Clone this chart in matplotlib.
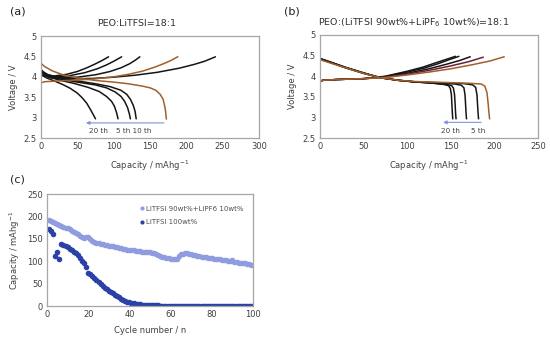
import matplotlib
matplotlib.use("Agg")
import matplotlib.pyplot as plt

# ---------------- Panel (a): PEO:LiTFSI = 18:1 ----------------
a_dis_brown_cap = [0, 5, 15, 30, 50, 75, 100, 120, 140, 150, 158, 164, 168, 170, 171.5, 172.5]
a_dis_brown_v = [4.33, 4.25, 4.15, 4.05, 3.97, 3.91, 3.87, 3.83, 3.77, 3.73, 3.67, 3.57, 3.45, 3.3, 3.15, 2.97]
a_dis_130_cap = [0, 10, 25, 50, 75, 95, 110, 118, 123, 127, 129.5, 131]
a_dis_130_v = [4.15, 4.05, 3.97, 3.9, 3.83, 3.76, 3.67, 3.57, 3.45, 3.3, 3.15, 2.97]
a_dis_122_cap = [0, 10, 25, 50, 75, 90, 102, 110, 115, 119, 121.5, 123]
a_dis_122_v = [4.12, 4.03, 3.95, 3.87, 3.8, 3.73, 3.63, 3.52, 3.4, 3.25, 3.1, 2.97]
a_dis_106_cap = [0, 10, 25, 45, 65, 80, 90, 97, 101, 104, 106]
a_dis_106_v = [4.1, 4.0, 3.92, 3.84, 3.74, 3.64, 3.52, 3.4, 3.28, 3.12, 2.97]
a_dis_75_cap = [0, 8, 18, 30, 40, 50, 57, 63, 68, 72, 75]
a_dis_75_v = [4.05, 3.97, 3.9, 3.81, 3.72, 3.6, 3.48, 3.35, 3.2, 3.07, 2.97]

a_chg_brown_cap = [0, 5, 25, 50, 75, 100, 120, 140, 157, 170, 180, 188]
a_chg_brown_v = [3.85, 3.88, 3.9, 3.92, 3.95, 4.0, 4.06, 4.14, 4.24, 4.33, 4.41, 4.49]
a_chg_240_cap = [0, 15, 40, 70, 100, 130, 160, 190, 210, 225, 240]
a_chg_240_v = [4.05, 3.97, 3.95, 3.96, 3.99, 4.04, 4.11, 4.21, 4.3, 4.38, 4.49]
a_chg_136_cap = [0, 10, 25, 50, 75, 95, 110, 122, 130, 136]
a_chg_136_v = [4.12, 4.02, 3.98, 3.99, 4.05, 4.13, 4.22, 4.32, 4.41, 4.49]
a_chg_111_cap = [0, 8, 20, 40, 60, 78, 90, 100, 106, 111]
a_chg_111_v = [4.15, 4.03, 4.0, 4.03, 4.1, 4.2, 4.29, 4.38, 4.44, 4.49]
a_chg_93_cap = [0, 7, 18, 35, 50, 63, 74, 83, 88, 93]
a_chg_93_v = [4.18, 4.05, 4.02, 4.06, 4.13, 4.22, 4.31, 4.39, 4.44, 4.49]
a_start_cap = [0, 0]
a_start_v = [2.5, 4.33]

# ---------------- Panel (b): PEO:(LiTFSI 90 + LiPF6 10) = 18:1 ----------------
b_dis_brown_cap = [0, 15, 30, 50, 70, 90, 110, 140, 170, 185, 189, 191.5, 193, 193.8, 194.5]
b_dis_brown_v = [4.4, 4.3, 4.2, 4.07, 3.96, 3.9, 3.87, 3.85, 3.83, 3.81, 3.76, 3.6, 3.3, 3.1, 2.97]
b_dis_181_cap = [0, 15, 30, 50, 70, 90, 110, 140, 165, 175, 178.5, 180, 180.7, 181.3, 181.8]
b_dis_181_v = [4.42, 4.31, 4.2, 4.07, 3.96, 3.9, 3.86, 3.84, 3.82, 3.79, 3.73, 3.55, 3.3, 3.1, 2.97]
b_dis_167_cap = [0, 15, 30, 50, 70, 90, 110, 140, 155, 162, 165, 166.3, 167, 167.5, 168]
b_dis_167_v = [4.42, 4.31, 4.2, 4.07, 3.96, 3.9, 3.86, 3.83, 3.81, 3.78, 3.72, 3.55, 3.3, 3.1, 2.97]
b_dis_155_cap = [0, 15, 30, 50, 70, 90, 110, 130, 145, 151, 153, 154.3, 155, 155.5, 156]
b_dis_155_v = [4.43, 4.32, 4.21, 4.08, 3.96, 3.9, 3.86, 3.83, 3.8, 3.77, 3.71, 3.55, 3.3, 3.1, 2.97]
b_dis_151_cap = [0, 15, 30, 50, 70, 90, 110, 130, 142, 147.5, 149.5, 150.7, 151.3, 151.8, 152.2]
b_dis_151_v = [4.43, 4.32, 4.21, 4.08, 3.96, 3.9, 3.86, 3.83, 3.8, 3.77, 3.7, 3.55, 3.3, 3.1, 2.97]

b_chg_brown_cap = [0, 0, 3, 20, 50, 75, 100, 125, 150, 175, 195, 211]
b_chg_brown_v = [2.5, 3.85, 3.9, 3.92, 3.94, 3.97, 4.03, 4.1, 4.18, 4.28, 4.37, 4.47]
b_chg_187_cap = [0, 3, 20, 50, 75, 100, 125, 150, 170, 187]
b_chg_187_v = [3.87, 3.9, 3.92, 3.94, 3.97, 4.05, 4.14, 4.25, 4.35, 4.46]
b_chg_172_cap = [0, 3, 20, 50, 75, 100, 125, 145, 160, 172]
b_chg_172_v = [3.87, 3.9, 3.92, 3.94, 3.98, 4.07, 4.18, 4.29, 4.38, 4.47]
b_chg_159_cap = [0, 3, 20, 50, 75, 100, 120, 135, 148, 159]
b_chg_159_v = [3.87, 3.9, 3.92, 3.94, 3.99, 4.1, 4.2, 4.3, 4.4, 4.48]
b_chg_155_cap = [0, 3, 20, 50, 75, 100, 118, 132, 145, 155]
b_chg_155_v = [3.87, 3.9, 3.92, 3.94, 4.0, 4.12, 4.22, 4.32, 4.41, 4.48]

# ---------------- Panel (c): cycling ----------------
cycles = list(range(1, 101))
cap_mixed = [191, 189, 187, 185, 183, 181, 179, 177, 175, 173,
             171, 168, 166, 163, 160, 157, 154, 151, 155, 154,
             150, 146, 143, 141, 140, 139, 138, 137, 136, 135,
             134, 133, 132, 131, 130, 129, 128, 127, 126, 125,
             124.5, 124, 123, 122.5, 122, 121.5, 121, 120.5, 120, 120,
             119, 118, 116, 113, 111, 110, 109, 108, 107, 106,
             106, 105.5, 105, 112, 115, 117, 119, 118, 116, 115,
             114, 113, 112, 111, 110, 109.5, 109, 108, 107.5, 107,
             106, 105.5, 105, 104, 103.5, 103, 102, 101.5, 101, 102,
             99, 98, 97, 96.5, 96, 95, 94, 93, 92, 91]
cap_litfsi = [172, 167, 161, 112, 120, 104, 138, 137, 134, 131,
              128, 124, 121, 118, 113, 107, 101, 95, 86, 74,
              71, 68, 63, 58, 54, 49, 45, 41, 38, 34,
              31, 28, 25, 22, 19, 16.5, 14, 12, 10, 8.5,
              7.2, 6, 5, 4.2, 3.5, 3, 2.5, 2.2, 1.9, 1.7,
              1.5, 1.4, 1.3, 1.2, 1.1, 1.0, 0.9, 0.8, 0.8, 0.7,
              0.6, 0.6, 0.6, 0.5, 0.5, 0.5, 0.5, 0.5, 0.4, 0.4,
              0.4, 0.4, 0.4, 0.4, 0.3, 0.3, 0.3, 0.3, 0.3, 0.3,
              0.3, 0.3, 0.3, 0.3, 0.2, 0.2, 0.2, 0.2, 0.2, 0.2,
              0.2, 0.2, 0.2, 0.2, 0.2, 0.2, 0.2, 0.2, 0.2, 0.2]
label_mixed = "LiTFSI 90wt%+LiPF6 10wt%"
label_litfsi = "LiTFSI 100wt%"

# ---------------- styling ----------------
BLACK = "#151515"
BROWN = "#a0602c"
DARKRED = "#6e2035"
LIGHT = "#8f9de0"
DARK = "#2b41a8"
SPINE = "#a6a6a6"
TXT = "#404040"
plt.rcParams["font.family"] = "DejaVu Sans"

fig = plt.figure(figsize=(5.5, 3.43), dpi=100)
W, H = 550.0, 343.0


def add_ax(l, t, r, b):
    return fig.add_axes([l / W, 1 - b / H, (r - l) / W, (b - t) / H])


def style(ax):
    for s in ax.spines.values():
        s.set_color(SPINE)
        s.set_linewidth(0.9)
    ax.tick_params(length=0, labelsize=6, labelcolor=TXT, pad=3)


cap_label = "Capacity / mAhg$^{\\mathregular{-1}}$"

# Panel (a)
axa = add_ax(41, 36, 259, 138)
lw = 1.1
for c, v in [(a_dis_130_cap, a_dis_130_v), (a_dis_122_cap, a_dis_122_v),
             (a_dis_106_cap, a_dis_106_v), (a_dis_75_cap, a_dis_75_v),
             (a_chg_240_cap, a_chg_240_v), (a_chg_136_cap, a_chg_136_v),
             (a_chg_111_cap, a_chg_111_v), (a_chg_93_cap, a_chg_93_v)]:
    axa.plot(c, v, color=BLACK, lw=lw, solid_capstyle="round")
for c, v in [(a_dis_brown_cap, a_dis_brown_v), (a_chg_brown_cap, a_chg_brown_v),
             (a_start_cap, a_start_v)]:
    axa.plot(c, v, color=BROWN, lw=lw)
axa.set_xlim(0, 300)
axa.set_ylim(2.5, 5)
axa.set_xticks([0, 50, 100, 150, 200, 250, 300])
axa.set_yticks([2.5, 3, 3.5, 4, 4.5, 5])
axa.set_yticklabels(["2.5", "3", "3.5", "4", "4.5", "5"])
style(axa)
axa.set_xlabel(cap_label, fontsize=6, color=TXT, labelpad=5)
axa.set_ylabel("Voltage / V", fontsize=6, color=TXT, labelpad=4)
axa.annotate("", xy=(58, 2.87), xytext=(173, 2.87),
             arrowprops=dict(arrowstyle="-|>", color="#7f93d8", lw=0.8, mutation_scale=5))
axa.text(79, 2.67, "20 th", fontsize=5.2, color=TXT, ha="center", va="center")
axa.text(128, 2.67, "5 th 10 th", fontsize=5.2, color=TXT, ha="center", va="center")
fig.text(137 / W, 1 - 23 / H, "PEO:LiTFSI=18:1", fontsize=6.8, color="#303030", ha="center", va="center")
fig.text(10 / W, 1 - 12 / H, "(a)", fontsize=8, color="#202020", ha="left", va="center")

# Panel (b)
axb = add_ax(320, 35, 538, 138)
for c, v in [(b_dis_181_cap, b_dis_181_v), (b_dis_167_cap, b_dis_167_v),
             (b_dis_155_cap, b_dis_155_v), (b_dis_151_cap, b_dis_151_v),
             (b_chg_172_cap, b_chg_172_v), (b_chg_159_cap, b_chg_159_v),
             (b_chg_155_cap, b_chg_155_v)]:
    axb.plot(c, v, color=BLACK, lw=lw)
axb.plot(b_chg_187_cap, b_chg_187_v, color=DARKRED, lw=lw)
axb.plot(b_dis_brown_cap, b_dis_brown_v, color=BROWN, lw=lw)
axb.plot(b_chg_brown_cap, b_chg_brown_v, color=BROWN, lw=lw)
axb.set_xlim(0, 250)
axb.set_ylim(2.5, 5)
axb.set_xticks([0, 50, 100, 150, 200, 250])
axb.set_yticks([2.5, 3, 3.5, 4, 4.5, 5])
axb.set_yticklabels(["2.5", "3", "3.5", "4", "4.5", "5"])
style(axb)
axb.set_xlabel(cap_label, fontsize=6, color=TXT, labelpad=5)
axb.set_ylabel("Voltage / V", fontsize=6, color=TXT, labelpad=4)
axb.annotate("", xy=(138, 2.88), xytext=(188, 2.88),
             arrowprops=dict(arrowstyle="-|>", color="#7f93d8", lw=0.8, mutation_scale=5))
axb.text(150, 2.68, "20 th", fontsize=5.2, color=TXT, ha="center", va="center")
axb.text(181, 2.68, "5 th", fontsize=5.2, color=TXT, ha="center", va="center")
fig.text(414 / W, 1 - 23 / H, "PEO:(LiTFSI 90wt%+LiPF$_6$ 10wt%)=18:1", fontsize=6.8,
         color="#303030", ha="center", va="center")
fig.text(284 / W, 1 - 12 / H, "(b)", fontsize=8, color="#202020", ha="left", va="center")

# Panel (c)
axc = add_ax(47, 194, 253, 306)
axc.plot(cycles, cap_mixed, "o", color=LIGHT, ms=4.0, mew=0, label=label_mixed)
axc.plot(cycles, cap_litfsi, "o", color=DARK, ms=4.0, mew=0, label=label_litfsi)
axc.set_xlim(0, 100)
axc.set_ylim(0, 250)
axc.set_xticks([0, 20, 40, 60, 80, 100])
axc.set_yticks([0, 50, 100, 150, 200, 250])
style(axc)
axc.set_xlabel("Cycle number / n", fontsize=6, color=TXT, labelpad=5)
axc.set_ylabel(cap_label, fontsize=6, color=TXT, labelpad=4)
leg = axc.legend(loc="upper left", bbox_to_anchor=(0.42, 0.95), frameon=False, fontsize=5,
                 handlelength=0.6, handletextpad=0.3, labelspacing=1.1, markerscale=0.75)
for t in leg.get_texts():
    t.set_color("#505050")
fig.text(10 / W, 1 - 180 / H, "(c)", fontsize=8, color="#202020", ha="left", va="center")

fig.savefig("out.png", dpi=100)
